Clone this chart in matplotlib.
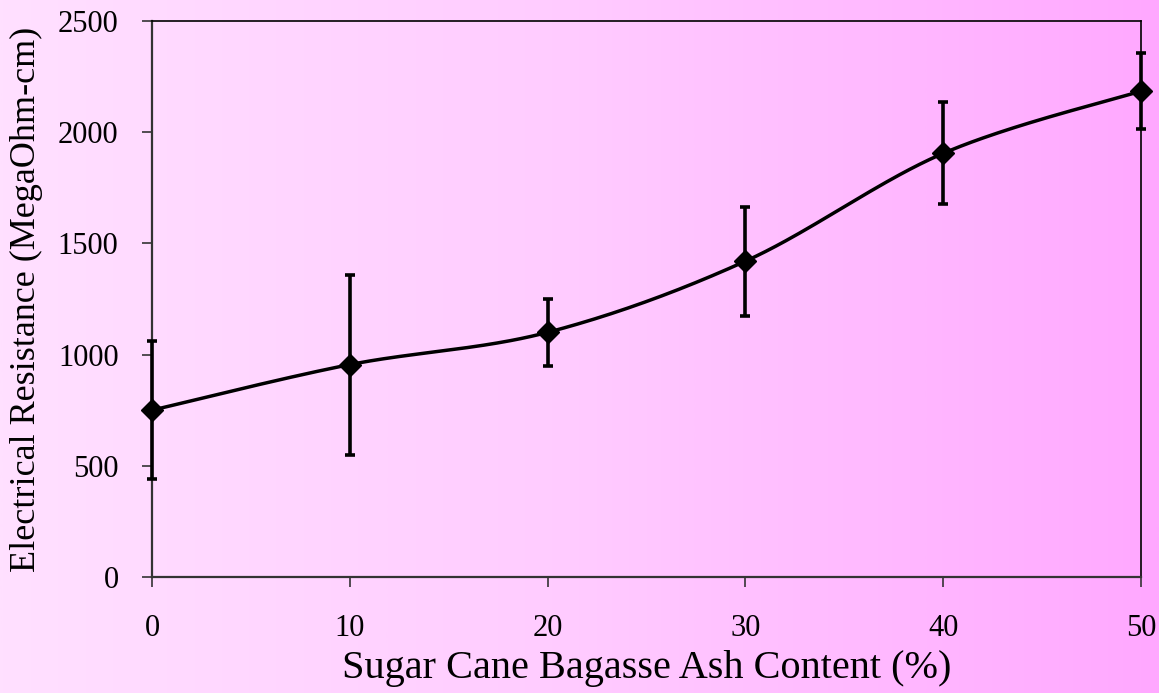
import numpy as np
import matplotlib
matplotlib.use("Agg")
import matplotlib.pyplot as plt
from matplotlib.colors import LinearSegmentedColormap

ash_content = [0, 10, 20, 30, 40, 50]
resistance = [750, 955, 1100, 1420, 1905, 2185]
errors = [310, 405, 150, 245, 230, 170]
x_ticks = [0, 10, 20, 30, 40, 50]
y_ticks = [0, 500, 1000, 1500, 2000, 2500]

plt.rcParams['font.family'] = ['Liberation Serif', 'DejaVu Serif']

fig = plt.figure(figsize=(11.59, 6.93), dpi=100)

# background gradient over the full figure
bg = fig.add_axes([0, 0, 1, 1], zorder=-10)
cmap = LinearSegmentedColormap.from_list('pk', [(0, '#FFE0FF'), (0.5, '#FFCBFF'), (1, '#FFA8FF')])
grad = np.linspace(0, 1, 512).reshape(1, -1)
bg.imshow(grad, aspect='auto', cmap=cmap, extent=[0, 1, 0, 1])
bg.set_axis_off()

ax = fig.add_axes([0.1311, 0.1674, 0.8534, 0.8023])
ax.patch.set_alpha(0)

# smoothed line (Catmull-Rom through the data points, like a spreadsheet smoothed line)
xs = np.array(ash_content, dtype=float)
ys = np.array(resistance, dtype=float)
px = np.concatenate([[xs[0]], xs, [xs[-1]]])
py = np.concatenate([[ys[0]], ys, [ys[-1]]])
cx, cy = [], []
t = np.linspace(0, 1, 60)
for i in range(1, len(px) - 2):
    p0x, p1x, p2x, p3x = px[i-1], px[i], px[i+1], px[i+2]
    p0y, p1y, p2y, p3y = py[i-1], py[i], py[i+1], py[i+2]
    b0x, b3x = p1x, p2x
    b1x = p1x + (p2x - p0x) / 6
    b2x = p2x - (p3x - p1x) / 6
    b0y, b3y = p1y, p2y
    b1y = p1y + (p2y - p0y) / 6
    b2y = p2y - (p3y - p1y) / 6
    bx = (1-t)**3*b0x + 3*(1-t)**2*t*b1x + 3*(1-t)*t**2*b2x + t**3*b3x
    by = (1-t)**3*b0y + 3*(1-t)**2*t*b1y + 3*(1-t)*t**2*b2y + t**3*b3y
    cx.extend(bx); cy.extend(by)
ax.plot(cx, cy, color='black', lw=2.5, zorder=3, clip_on=False)

ax.errorbar(ash_content, resistance, yerr=errors, fmt='none', ecolor='black',
            elinewidth=2.6, capsize=3.8, capthick=2.6, zorder=4, clip_on=False)
ax.plot(ash_content, resistance, linestyle='none', marker='D', ms=11,
        color='black', zorder=5, clip_on=False)

ax.set_xlim(0, 50)
ax.set_ylim(0, 2500)
ax.set_xticks(x_ticks)
ax.set_yticks(y_ticks)
ax.tick_params(axis='both', direction='out', length=7, width=1.2, colors='#333333',
               labelsize=22, labelcolor='black')
ax.tick_params(axis='x', pad=20)
ax.tick_params(axis='y', pad=17)
for s in ['left', 'bottom']:
    ax.spines[s].set_linewidth(1.6)
    ax.spines[s].set_color('#333333')
for s in ['top', 'right']:
    ax.spines[s].set_linewidth(1.2)
    ax.spines[s].set_color('black')

ax.set_xlabel('Sugar Cane Bagasse Ash Content (%)', fontsize=29, labelpad=5)
ax.set_ylabel('Electrical Resistance (MegaOhm-cm)', fontsize=26, labelpad=11)

fig.savefig('out.png', dpi=100)
